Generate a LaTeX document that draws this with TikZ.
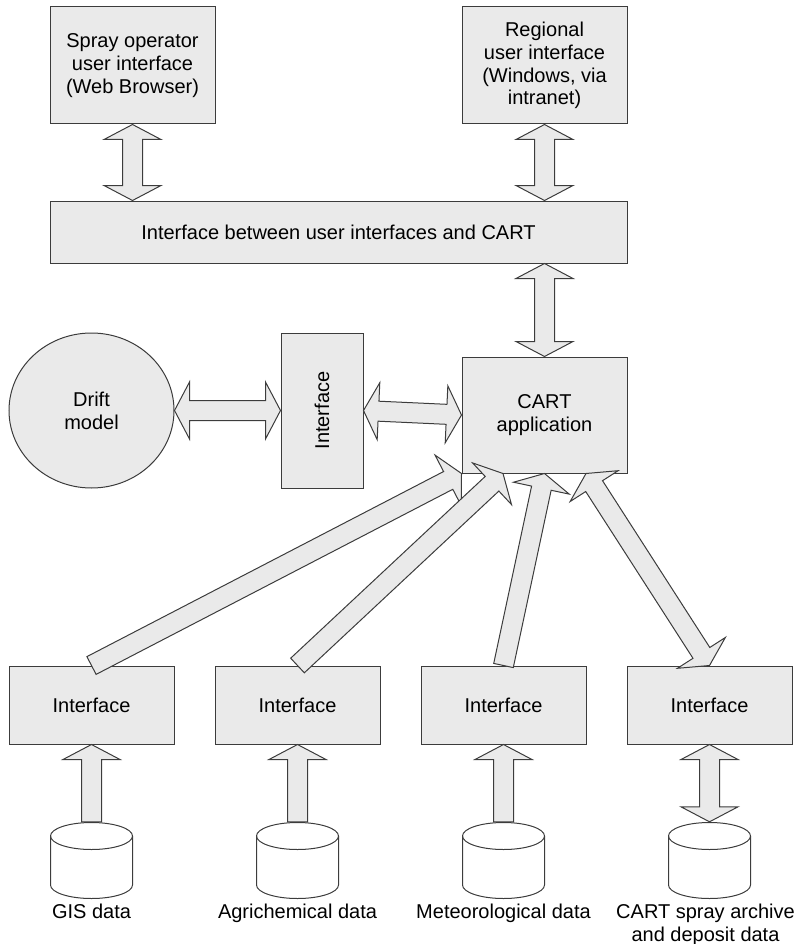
\documentclass[tikz,border=0pt]{standalone}
\usepackage{fontspec}
\setmainfont{Liberation Sans}
\usepackage{tikz}
\usetikzlibrary{positioning,calc,shapes.geometric}
\definecolor{BoxGray}{HTML}{EAEAEA}
\definecolor{EdgeGray}{HTML}{3C3C3C}
\newcommand{\ui}{\fontsize{20}{22.7}\selectfont}
\newcommand{\arrhead}{15pt}
\newcommand{\arrwing}{28.5pt}
\newcommand{\arrshaft}{10pt}
% block arrow, tail -> tip
\newcommand{\fatarrow}[2]{%
  \path (#1) coordinate (fa-t) (#2) coordinate (fa-h);
  \path ($(fa-h)!\arrhead!(fa-t)$) coordinate (fa-b);
  \draw[fat]
    ($(fa-t)!\arrshaft!90:(fa-h)$) -- ($(fa-b)!\arrshaft!90:(fa-h)$) --
    ($(fa-b)!\arrwing!90:(fa-h)$) -- (fa-h) --
    ($(fa-b)!\arrwing!-90:(fa-h)$) -- ($(fa-b)!\arrshaft!-90:(fa-h)$) --
    ($(fa-t)!\arrshaft!-90:(fa-h)$) -- cycle;
}
% block arrow, heads at both ends
\newcommand{\fatarrowboth}[2]{%
  \path (#1) coordinate (fa-t) (#2) coordinate (fa-h);
  \path ($(fa-t)!\arrhead!(fa-h)$) coordinate (fa-a)
        ($(fa-h)!\arrhead!(fa-t)$) coordinate (fa-b);
  \draw[fat]
    (fa-t) -- ($(fa-a)!\arrwing!90:(fa-h)$) -- ($(fa-a)!\arrshaft!90:(fa-h)$) --
    ($(fa-b)!\arrshaft!90:(fa-h)$) -- ($(fa-b)!\arrwing!90:(fa-h)$) -- (fa-h) --
    ($(fa-b)!\arrwing!-90:(fa-h)$) -- ($(fa-b)!\arrshaft!-90:(fa-h)$) --
    ($(fa-a)!\arrshaft!-90:(fa-h)$) -- ($(fa-a)!\arrwing!-90:(fa-h)$) -- cycle;
}

\begin{document}
\begin{tikzpicture}[
  x=1pt,y=-1pt,
  box/.style={draw=EdgeGray,fill=BoxGray,line width=1pt,minimum width=165pt,minimum height=78pt,inner sep=0pt,align=center,font=\ui},
  drum/.style={draw=EdgeGray,fill=BoxGray,line width=1pt,ellipse,minimum width=165pt,minimum height=155pt,inner sep=0pt,align=center,font=\ui},
  store/.style={minimum width=83pt,minimum height=77pt,inner sep=0pt,
    path picture={
      \draw[EdgeGray,line width=1pt]
        ([yshift=-14pt]path picture bounding box.north) ellipse [x radius=41pt,y radius=13.5pt];
      \draw[EdgeGray,line width=1pt]
        ([xshift=0.5pt,yshift=-14pt]path picture bounding box.north west) --
        ([xshift=0.5pt,yshift=14pt]path picture bounding box.south west)
        arc [start angle=180,end angle=360,x radius=41pt,y radius=13.5pt] --
        ([xshift=-0.5pt,yshift=-14pt]path picture bounding box.north east);
    }},
  dblabel/.style={align=center,font=\ui,inner sep=0pt},
  fat/.style={draw=EdgeGray,fill=BoxGray,line width=1pt,line join=miter}
]
\useasboundingbox (0,0) rectangle (801,944);
\node[box,minimum height=117pt] (spray) at (132.5,65.5) {Spray operator\\user interface\\(Web Browser)};
\node[box,minimum height=117pt] (regional) at (544.5,65.5) {Regional\\user interface\\(Windows, via\\intranet)};
\node[box,minimum width=577pt,minimum height=62pt] (bar) at (338.5,232) {Interface between user interfaces and CART};
\node[drum] (drift) at (91.5,410.5) {Drift\\model};
\node[box,minimum width=82pt,minimum height=155pt] (link) at (322,410.5) {\rotatebox{90}{Interface}};
\node[box,minimum height=116pt] (cart) at (544.5,415) {CART\\application};
\node[box] (gis) at (91.5,705) {Interface};
\node[box] (agri) at (297.5,705) {Interface};
\node[box] (met) at (503.5,705) {Interface};
\node[box] (arch) at (709.5,705) {Interface};
\node[store] (gisdb) at (91.5,860.5) {};
\node[store] (agridb) at (297.5,860.5) {};
\node[store] (metdb) at (503.5,860.5) {};
\node[store] (archdb) at (709.5,860.5) {};
\node[dblabel,below=5pt of gisdb] (gislbl) {GIS data};
\node[dblabel,below=5pt of agridb] (agrilbl) {Agrichemical data};
\node[dblabel,below=5pt of metdb] (metlbl) {Meteorological data};
\node[dblabel,below=5pt of archdb,xshift=-4pt] (archlbl) {CART spray archive\\and deposit data};
\fatarrowboth{spray.south}{spray.south |- bar.north}
\fatarrowboth{regional.south}{regional.south |- bar.north}
\fatarrowboth{cart.north |- bar.south}{cart.north}
\fatarrowboth{drift.east}{link.west}
\fatarrowboth{link.east}{cart.west}
\fatarrow{gis.north}{cart.south west}
\fatarrow{agri.north}{$(cart.south west)!0.5!(cart.south)$}
\fatarrow{met.north}{cart.south}
\fatarrowboth{$(cart.south)!0.5!(cart.south east)$}{arch.north}
\fatarrow{gisdb.north}{gis.south}
\fatarrow{agridb.north}{agri.south}
\fatarrow{metdb.north}{met.south}
\fatarrowboth{archdb.north}{arch.south}
\end{tikzpicture}
\end{document}
